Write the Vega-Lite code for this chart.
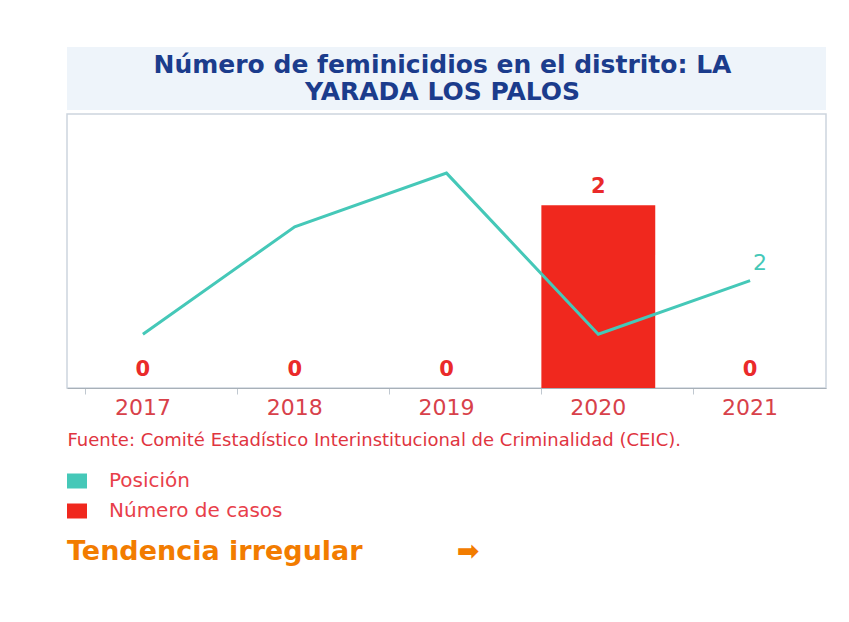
{
  "$schema": "https://vega.github.io/schema/vega-lite/v6.json",
  "background": "white",
  "padding": {"left": 66, "top": 47, "right": 20, "bottom": 10},
  "config": {"font": "DejaVu Sans", "view": {"strokeWidth": 1.5}},
  "data": {
    "values": [
      {"anio": "2017", "serie": "Número de casos", "valor": 0},
      {"anio": "2018", "serie": "Número de casos", "valor": 0},
      {"anio": "2019", "serie": "Número de casos", "valor": 0},
      {"anio": "2020", "serie": "Número de casos", "valor": 2},
      {"anio": "2021", "serie": "Número de casos", "valor": 0},
      {"anio": "2017", "serie": "Posición", "valor": 1},
      {"anio": "2018", "serie": "Posición", "valor": 3},
      {"anio": "2019", "serie": "Posición", "valor": 4},
      {"anio": "2020", "serie": "Posición", "valor": 1},
      {"anio": "2021", "serie": "Posición", "valor": 2}
    ]
  },
  "spacing": 3,
  "vconcat": [
    {
      "width": 759,
      "height": 63,
      "view": {"fill": "#eef4fa", "stroke": null},
      "data": {"values": [{"t": "Número de feminicidios en el distrito: LA\nYARADA LOS PALOS"}]},
      "mark": {
        "type": "text",
        "lineBreak": "\n",
        "fontSize": 25,
        "fontWeight": "bold",
        "color": "#1b3c8c",
        "lineHeight": 27,
        "baseline": "middle",
        "align": "center",
        "dy": -14,
        "dx": -4
      },
      "encoding": {"text": {"field": "t"}}
    },
    {
      "width": 759,
      "height": 274,
      "view": {"stroke": "#cdd5de"},
      "title": {
        "text": "Tendencia irregular\u00a0\u00a0\u00a0\u00a0\u00a0\u00a0\u00a0\u00a0\u00a0\u00a0➡",
        "orient": "bottom",
        "anchor": "start",
        "color": "#f27c00",
        "fontSize": 27,
        "fontWeight": "bold",
        "offset": 90
      },
      "encoding": {
        "x": {
          "field": "anio",
          "type": "ordinal",
          "scale": {"paddingInner": 0.25, "paddingOuter": 0.125},
          "axis": {
            "title": "Fuente: Comité Estadístico Interinstitucional de Criminalidad (CEIC).",
            "titleAnchor": "start",
            "titleAlign": "left",
            "titleFontSize": 18,
            "titleFontWeight": "normal",
            "titleColor": "#e0353f",
            "titlePadding": 13,
            "labelAngle": 0,
            "labelFontSize": 22,
            "labelColor": "#d8414a",
            "labelPadding": 3,
            "tickSize": 6,
            "tickColor": "#c0c8d0",
            "domainColor": "#a8b0b8",
            "bandPosition": 0,
            "grid": false
          }
        }
      },
      "layer": [
        {
          "transform": [{"filter": "datum.serie === 'Número de casos'"}],
          "mark": {"type": "bar"},
          "encoding": {
            "y": {"field": "valor", "type": "quantitative", "scale": {"domain": [0, 3]}, "axis": null},
            "color": {
              "field": "serie",
              "type": "nominal",
              "scale": {"domain": ["Posición", "Número de casos"], "range": ["#45c8b8", "#f0281e"]},
              "legend": {
                "orient": "none",
                "legendX": 0,
                "legendY": 424,
                "direction": "vertical",
                "title": null,
                "symbolType": "M-1,-0.75H1V0.75H-1Z",
                "symbolSize": 400,
                "symbolStrokeWidth": 0,
                "symbolOpacity": 1,
                "labelFontSize": 20,
                "labelColor": "#e8404a",
                "labelOffset": 22,
                "labelLimit": 400,
                "rowPadding": 10
              }
            }
          }
        },
        {
          "transform": [{"filter": "datum.serie === 'Número de casos'"}],
          "mark": {"type": "text", "baseline": "bottom", "dy": -8, "fontSize": 21, "fontWeight": "bold", "color": "#ea2a2a"},
          "encoding": {
            "y": {"field": "valor", "type": "quantitative", "scale": {"domain": [0, 3]}, "axis": null},
            "text": {"field": "valor", "type": "quantitative"}
          }
        },
        {
          "transform": [{"filter": "datum.serie === 'Posición'"}],
          "mark": {"type": "line", "color": "#45c8b8", "strokeWidth": 3},
          "encoding": {
            "y": {"field": "valor", "type": "quantitative", "scale": {"domain": [0, 5.1]}, "axis": null}
          }
        },
        {
          "transform": [{"filter": "datum.serie === 'Posición' && datum.anio === '2021'"}],
          "mark": {"type": "text", "dx": 10, "dy": -18, "fontSize": 22, "color": "#45c8b8"},
          "encoding": {
            "y": {"field": "valor", "type": "quantitative", "scale": {"domain": [0, 5.1]}, "axis": null},
            "text": {"field": "valor", "type": "quantitative"}
          }
        }
      ],
      "resolve": {"scale": {"y": "independent"}}
    }
  ]
}
